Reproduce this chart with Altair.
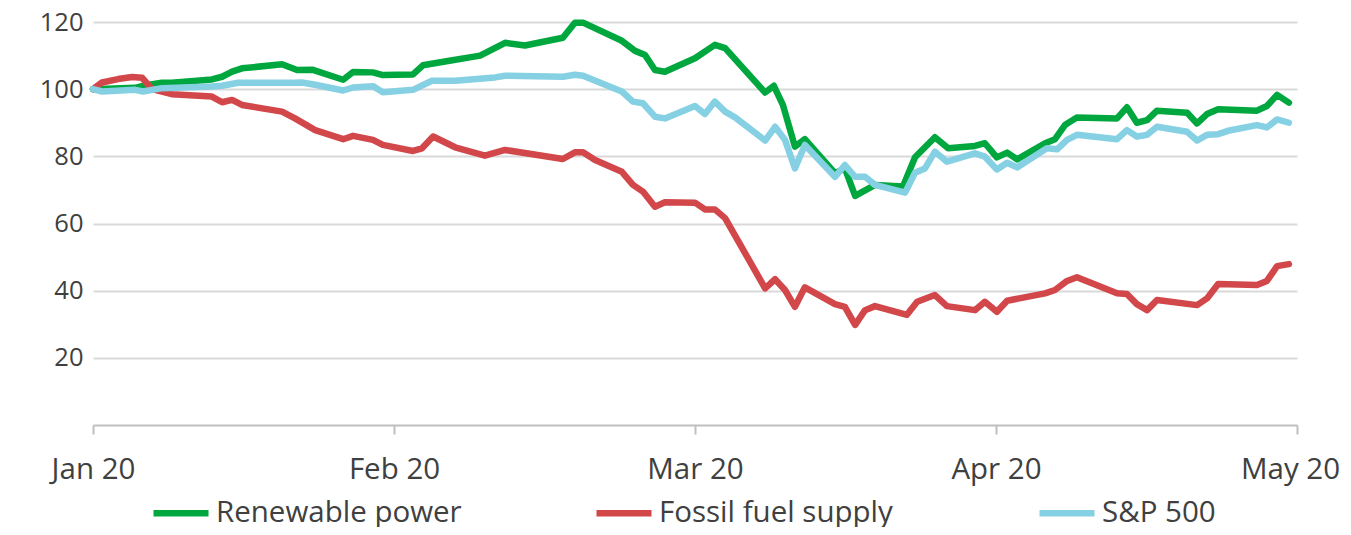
import json
import altair as alt
import pandas as pd

series_names = ["Renewable power", "Fossil fuel supply", "S&P 500"]
series_colors = ["#00A73F", "#D2474A", "#85D0E3"]
series_widths = [6.5, 6.5, 5.5]
month_labels = ["Jan 20", "Feb 20", "Mar 20", "Apr 20", "May 20"]
month_ticks = [0, 1, 2, 3, 4]
y_ticks = [20, 40, 60, 80, 100, 120]

# t = months since 1 Jan 2020 (each month spans one unit on the axis)
renew_t = [0.000, 0.140, 0.166, 0.229, 0.262, 0.395, 0.429, 0.462, 0.495, 0.628,
           0.678, 0.728, 0.831, 0.864, 0.930, 0.963, 1.063, 1.096, 1.179, 1.286,
           1.369, 1.435, 1.561, 1.601, 1.628, 1.757, 1.801, 1.834, 1.867, 1.900,
           2.000, 2.066, 2.100, 2.233, 2.262, 2.292, 2.332, 2.365, 2.465, 2.498,
           2.532, 2.598, 2.691, 2.731, 2.797, 2.841, 2.930, 2.963, 3.003, 3.037,
           3.070, 3.163, 3.196, 3.229, 3.269, 3.402, 3.435, 3.468, 3.502, 3.535,
           3.635, 3.668, 3.701, 3.738, 3.867, 3.900, 3.934, 3.973]
renew_v = [100.0, 100.4, 101.0, 101.9, 101.9, 102.9, 103.7, 105.2, 106.2, 107.4,
           105.7, 105.8, 102.8, 105.1, 105.0, 104.2, 104.4, 107.1, 108.4, 110.0,
           113.8, 113.0, 115.3, 119.8, 119.8, 114.4, 111.4, 110.2, 105.7, 105.2,
           109.2, 113.2, 112.2, 99.0, 101.0, 95.3, 82.9, 85.1, 75.0, 76.4,
           68.2, 71.5, 71.0, 79.7, 85.7, 82.4, 83.1, 83.9, 79.7, 81.1,
           79.1, 83.9, 85.1, 89.3, 91.6, 91.3, 94.6, 90.0, 90.8, 93.6,
           93.0, 89.8, 92.6, 94.0, 93.6, 95.0, 98.3, 96.0]

fossil_t = [0.000, 0.030, 0.083, 0.130, 0.163, 0.196, 0.262, 0.395, 0.429, 0.462,
            0.495, 0.628, 0.671, 0.738, 0.831, 0.864, 0.930, 0.963, 1.063, 1.093,
            1.130, 1.203, 1.302, 1.369, 1.561, 1.601, 1.628, 1.668, 1.757, 1.794,
            1.827, 1.867, 1.900, 2.000, 2.033, 2.066, 2.100, 2.233, 2.266, 2.299,
            2.332, 2.365, 2.465, 2.498, 2.532, 2.565, 2.598, 2.704, 2.738, 2.797,
            2.837, 2.930, 2.963, 3.003, 3.037, 3.163, 3.196, 3.236, 3.269, 3.402,
            3.435, 3.468, 3.502, 3.535, 3.668, 3.701, 3.738, 3.867, 3.900, 3.934,
            3.973]
fossil_v = [100.0, 102.0, 103.0, 103.6, 103.4, 100.0, 98.5, 97.8, 96.1, 96.8,
            95.3, 93.3, 91.3, 87.8, 85.1, 86.1, 84.9, 83.4, 81.6, 82.4,
            85.9, 82.7, 80.2, 81.9, 79.2, 81.2, 81.2, 78.9, 75.4, 71.5,
            69.5, 65.0, 66.3, 66.2, 64.2, 64.2, 61.6, 40.7, 43.4, 40.2,
            35.2, 41.0, 36.0, 35.2, 29.8, 34.2, 35.4, 32.8, 36.7, 38.7,
            35.4, 34.2, 36.7, 33.7, 37.0, 39.2, 40.2, 42.9, 44.0, 39.2,
            39.0, 36.0, 34.2, 37.2, 35.7, 37.7, 42.0, 41.7, 42.9, 47.3,
            47.9]

sp_t = [0.000, 0.030, 0.140, 0.166, 0.229, 0.395, 0.429, 0.482, 0.671, 0.694,
        0.738, 0.831, 0.864, 0.930, 0.963, 1.063, 1.126, 1.203, 1.336, 1.369,
        1.561, 1.601, 1.628, 1.757, 1.794, 1.827, 1.867, 1.900, 2.000, 2.033,
        2.066, 2.100, 2.133, 2.233, 2.266, 2.299, 2.332, 2.365, 2.465, 2.498,
        2.532, 2.565, 2.598, 2.698, 2.731, 2.764, 2.797, 2.837, 2.930, 2.963,
        3.003, 3.037, 3.070, 3.169, 3.203, 3.236, 3.269, 3.402, 3.435, 3.468,
        3.502, 3.535, 3.635, 3.668, 3.701, 3.738, 3.771, 3.867, 3.900, 3.934,
        3.973]
sp_v = [100.0, 99.3, 99.8, 99.3, 100.3, 100.8, 101.0, 101.9, 101.9, 102.0,
        101.3, 99.6, 100.5, 100.9, 99.1, 99.8, 102.5, 102.5, 103.5, 104.0,
        103.7, 104.3, 104.0, 99.3, 96.3, 95.8, 91.8, 91.3, 95.0, 92.6,
        96.3, 93.3, 91.6, 84.7, 88.8, 84.9, 76.4, 83.4, 73.9, 77.4,
        73.9, 73.9, 71.5, 69.2, 75.1, 76.4, 81.4, 78.4, 80.9, 79.9,
        76.1, 78.1, 76.7, 82.4, 82.1, 84.9, 86.4, 85.1, 87.8, 85.9,
        86.4, 88.8, 87.3, 84.7, 86.4, 86.6, 87.6, 89.3, 88.6, 91.0,
        90.0]

rows = []
for name, ts, vs in zip(series_names, [renew_t, fossil_t, sp_t], [renew_v, fossil_v, sp_v]):
    for i, (t, v) in enumerate(zip(ts, vs)):
        rows.append({"series": name, "t": t, "v": v, "i": i})
df = pd.DataFrame(rows)

FONT = "Open Sans"
TXT = "#404040"
label_expr = json.dumps(month_labels) + "[datum.value]"

chart = alt.Chart(df).mark_line(strokeJoin="round", strokeCap="round").encode(
    x=alt.X("t:Q",
            scale=alt.Scale(domain=[0, 4], nice=False, zero=False),
            axis=alt.Axis(values=month_ticks, labelExpr=label_expr, title=None,
                          grid=False, domain=True, domainColor="#BFBFBF", domainWidth=2,
                          ticks=True, tickColor="#BFBFBF", tickWidth=2, tickSize=9,
                          labelFont=FONT, labelFontSize=29.5, labelColor=TXT,
                          labelPadding=21, labelFlush=False,
                          labelOffset={"condition": {"test": "datum.value == 4", "value": -7},
                                       "value": 0})),
    y=alt.Y("v:Q",
            scale=alt.Scale(domain=[0, 120], nice=False, zero=True),
            axis=alt.Axis(values=y_ticks, title=None, domain=False, ticks=False,
                          grid=True, gridColor="#D9D9D9", gridWidth=2,
                          labelFont=FONT, labelFontSize=25.5, labelColor=TXT,
                          labelPadding=10)),
    color=alt.Color("series:N",
                    scale=alt.Scale(domain=series_names, range=series_colors),
                    legend=alt.Legend(title=None, orient="none", direction="horizontal",
                                      legendX=57, legendY=460,
                                      symbolType="stroke", symbolSize=3025,
                                      symbolStrokeWidth=6.5, labelOffset=4,
                                      labelLimit=600,
                                      labelFont=FONT, labelFontSize=29.5, labelColor=TXT,
                                      gridAlign="all", columnPadding=121)),
    strokeWidth=alt.StrokeWidth("series:N",
                                scale=alt.Scale(domain=series_names, range=series_widths),
                                legend=None),
    order="i:Q",
).properties(
    width=1204, height=403,
    autosize=alt.AutoSizeParams(type="none"),
    padding={"left": 85, "top": 14, "right": 46, "bottom": 102},
).configure_view(stroke=None)

chart.save("out.html", embed_options={"renderer": "svg", "actions": False})
